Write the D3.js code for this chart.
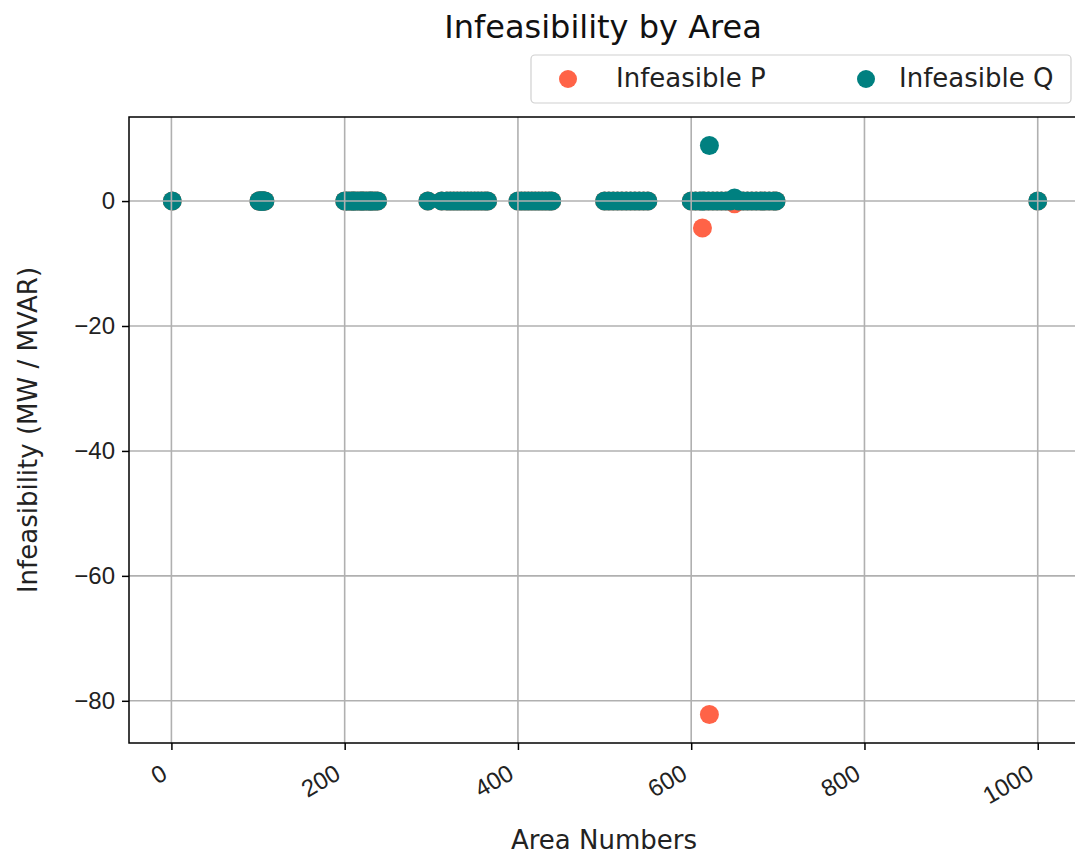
<!DOCTYPE html>
<html><head><meta charset="utf-8">
<script src="https://cdn.jsdelivr.net/npm/d3@7"></script>
<style>body{margin:0;background:#fff;}svg{display:block;font-family:"DejaVu Sans",sans-serif;}</style>
</head><body>
<svg id="c" width="1075" height="854"></svg>
<script>
const areas = [1,
 101,102,103,104,105,106,107,108,
 200,202,205,208,210,212,215,218,220,222,225,228,230,232,235,238,
 296,312,318,322,326,330,334,338,342,346,350,354,358,362,365,
 400,404,408,412,416,420,424,428,432,436,439,
 500,505,510,515,520,525,530,535,540,545,550,
 600,605,610,613,615,620,621,625,630,635,640,645,650,655,660,665,670,675,680,685,690,695,698,
 1000];
const pSpecial = {613: -4.3, 621: -82.2, 650: -0.45};
const qSpecial = {621: 8.9, 650: 0.5};
const infeasibleP = areas.map(a => pSpecial[a] !== undefined ? pSpecial[a] : 0);
const infeasibleQ = areas.map(a => qSpecial[a] !== undefined ? qSpecial[a] : 0);
const xTicks = [0,200,400,600,800,1000];
const yTicks = [0,-20,-40,-60,-80];
const seriesNames = ["Infeasible P","Infeasible Q"];
const colors = ["#ff6347","#008080"];

const svg = d3.select("#c");
const L=129, R=1081, T=117, B=743;
const allY = infeasibleP.concat(infeasibleQ);
const xmin=d3.min(areas), xmax=d3.max(areas), xm=(xmax-xmin)*0.05;
const ymin=d3.min(allY), ymax=d3.max(allY), ym=(ymax-ymin)*0.05;
const x = d3.scaleLinear().domain([xmin-xm, xmax+xm]).range([L,R]);
const y = d3.scaleLinear().domain([ymin-ym, ymax+ym]).range([B,T]);

const plot = svg.append("g");
[infeasibleP, infeasibleQ].forEach((vals,si)=>{
  plot.append("g").selectAll("circle").data(areas).join("circle")
    .attr("cx", d=>x(d)).attr("cy",(d,i)=>y(vals[i])).attr("r",9.5)
    .attr("fill",colors[si]);
});
// grid on top
const grid = svg.append("g").attr("stroke","#b0b0b0").attr("stroke-width",1.6);
xTicks.forEach(t=>grid.append("line").attr("x1",x(t)).attr("x2",x(t)).attr("y1",T).attr("y2",B));
yTicks.forEach(t=>grid.append("line").attr("x1",L).attr("x2",R).attr("y1",y(t)).attr("y2",y(t)));

const fmt = d=> d<0 ? "\u2212"+Math.abs(d) : ""+d;
const xa = svg.append("g").attr("transform",`translate(0,${B})`)
  .call(d3.axisBottom(x).tickValues(xTicks).tickSize(7).tickPadding(6).tickFormat(fmt));
xa.select(".domain").remove();
xa.selectAll("text").attr("font-size",24).attr("fill","#222")
  .attr("text-anchor","end").attr("x",0).attr("y",0).attr("dy",0)
  .attr("transform","translate(-3,35) rotate(-30)");
const ya = svg.append("g").attr("transform",`translate(${L},0)`)
  .call(d3.axisLeft(y).tickValues(yTicks).tickSize(7).tickPadding(7).tickFormat(fmt));
ya.select(".domain").remove();
ya.selectAll("text").attr("font-size",24).attr("fill","#222");
svg.selectAll(".tick line").attr("stroke","#000").attr("stroke-width",1.5);

svg.append("rect").attr("x",L).attr("y",T).attr("width",R-L).attr("height",B-T)
  .attr("fill","none").attr("stroke","#000").attr("stroke-width",1.5);

svg.append("text").attr("x",(L+R)/2 - 2).attr("y",38).attr("text-anchor","middle")
  .attr("font-size",32).attr("fill","#111").text("Infeasibility by Area");
svg.append("text").attr("x",604).attr("y",849).attr("text-anchor","middle")
  .attr("font-size",26).attr("fill","#222").text("Area Numbers");
svg.append("text").attr("transform","translate(37,430) rotate(-90)").attr("text-anchor","middle")
  .attr("font-size",26).attr("fill","#222").text("Infeasibility (MW / MVAR)");

// legend
const lg = svg.append("g");
lg.append("rect").attr("x",531).attr("y",55).attr("width",540).attr("height",48).attr("rx",4)
  .attr("fill","#fff").attr("fill-opacity",0.8).attr("stroke","#d0d0d0").attr("stroke-width",1.2);
const lx=[568,866], tx=[616,899];
seriesNames.forEach((n,i)=>{
  lg.append("circle").attr("cx",lx[i]).attr("cy",79).attr("r",9).attr("fill",colors[i]);
  lg.append("text").attr("x",tx[i]).attr("y",87).attr("font-size",26).attr("fill","#222").text(n);
});
</script>
</body></html>
